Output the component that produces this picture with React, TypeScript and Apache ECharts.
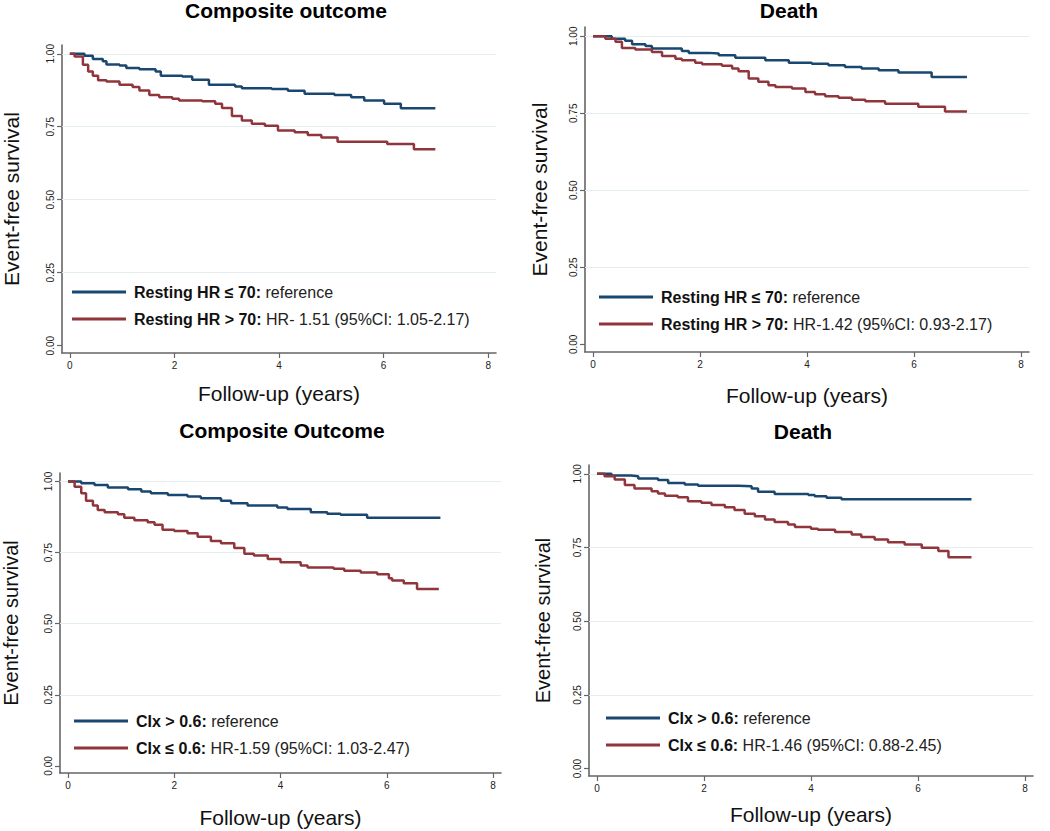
import React, { useEffect, useRef } from "react";
import * as echarts from "echarts";

// ---- Data ----
const xTicks = [0, 2, 4, 6, 8];
const yTicks = [0, 0.25, 0.5, 0.75, 1];
const yGridValues = [0.25, 0.5, 0.75, 1];

const panelTitles = ["Composite outcome", "Death", "Composite Outcome", "Death"];
const xAxisTitle = "Follow-up (years)";
const yAxisTitle = "Event-free survival";

const legendBold = [
  ["Resting HR ≤ 70:", "Resting HR > 70:"],
  ["Resting HR ≤ 70:", "Resting HR > 70:"],
  ["CIx > 0.6:", "CIx ≤ 0.6:"],
  ["CIx > 0.6:", "CIx ≤ 0.6:"],
];
const legendRest = [
  ["reference", "HR- 1.51 (95%CI: 1.05-2.17)"],
  ["reference", "HR-1.42 (95%CI: 0.93-2.17)"],
  ["reference", "HR-1.59 (95%CI: 1.03-2.47)"],
  ["reference", "HR-1.46 (95%CI: 0.88-2.45)"],
];

// Panel 1: Composite outcome, resting HR
const p1BlueT = [0, 0.28, 0.44, 0.63, 0.7, 0.95, 1.08, 1.33, 1.64, 1.74, 2.15, 2.34, 2.66, 3.16, 3.29, 3.86, 4.17, 4.49, 5.06, 5.38, 5.63, 6.01, 6.33, 6.99];
const p1BlueS = [1, 0.993, 0.982, 0.974, 0.963, 0.96, 0.951, 0.947, 0.939, 0.925, 0.922, 0.911, 0.894, 0.888, 0.882, 0.879, 0.873, 0.863, 0.859, 0.851, 0.84, 0.829, 0.813, 0.813];
const p1RedT = [0, 0.09, 0.25, 0.35, 0.44, 0.54, 0.7, 0.95, 1.2, 1.33, 1.52, 1.71, 1.96, 2.09, 2.53, 2.78, 2.91, 3.1, 3.29, 3.48, 3.73, 3.98, 4.3, 4.55, 4.81, 5.12, 6.07, 6.58, 6.99];
const p1RedS = [1, 0.991, 0.962, 0.939, 0.925, 0.909, 0.905, 0.894, 0.886, 0.874, 0.859, 0.851, 0.846, 0.84, 0.837, 0.829, 0.814, 0.787, 0.771, 0.76, 0.753, 0.737, 0.731, 0.722, 0.713, 0.699, 0.691, 0.673, 0.673];

// Panel 2: Death, resting HR
const p2BlueT = [0, 0.35, 0.6, 0.73, 0.98, 1.1, 1.66, 1.79, 2.16, 2.35, 2.66, 3.22, 3.66, 4.09, 4.4, 4.71, 5.02, 5.34, 5.71, 6.33, 6.99];
const p2BlueS = [1, 0.992, 0.985, 0.974, 0.968, 0.96, 0.952, 0.946, 0.944, 0.938, 0.93, 0.922, 0.914, 0.911, 0.906, 0.9, 0.895, 0.89, 0.882, 0.868, 0.868];
const p2RedT = [0, 0.23, 0.42, 0.54, 0.79, 1.1, 1.29, 1.54, 1.66, 1.91, 2.04, 2.41, 2.6, 2.72, 2.91, 3.09, 3.28, 3.41, 3.72, 3.97, 4.15, 4.34, 4.59, 4.84, 5.09, 5.46, 6.08, 6.58, 6.99];
const p2RedS = [1, 0.992, 0.982, 0.962, 0.957, 0.949, 0.936, 0.927, 0.922, 0.914, 0.909, 0.904, 0.895, 0.886, 0.863, 0.852, 0.841, 0.835, 0.83, 0.819, 0.812, 0.805, 0.8, 0.794, 0.789, 0.781, 0.771, 0.756, 0.756];

// Panel 3: Composite outcome, CIx
const p3BlueT = [0, 0.25, 0.5, 0.75, 1.13, 1.38, 1.56, 1.88, 2.25, 2.5, 2.88, 3.07, 3.38, 3.94, 4.13, 4.57, 4.88, 5.13, 5.63, 7.01];
const p3BlueS = [1, 0.994, 0.988, 0.979, 0.973, 0.965, 0.959, 0.953, 0.947, 0.941, 0.932, 0.924, 0.916, 0.909, 0.903, 0.892, 0.887, 0.883, 0.873, 0.873];
const p3RedT = [0, 0.125, 0.25, 0.34, 0.47, 0.56, 0.69, 0.94, 1.06, 1.25, 1.5, 1.63, 1.78, 2.0, 2.25, 2.44, 2.69, 2.88, 3.13, 3.32, 3.5, 3.76, 4.0, 4.38, 4.51, 5.0, 5.2, 5.51, 5.82, 6.04, 6.1, 6.32, 6.57, 6.98];
const p3RedS = [1, 0.982, 0.959, 0.932, 0.916, 0.9, 0.892, 0.885, 0.873, 0.864, 0.857, 0.848, 0.83, 0.826, 0.818, 0.806, 0.791, 0.783, 0.766, 0.746, 0.74, 0.728, 0.716, 0.705, 0.698, 0.693, 0.686, 0.68, 0.674, 0.66, 0.652, 0.642, 0.622, 0.622];

// Panel 4: Death, CIx
const p4BlueT = [0, 0.27, 0.64, 0.77, 1.14, 1.33, 1.64, 1.89, 2.64, 2.89, 3.01, 3.32, 3.95, 4.07, 4.29, 4.57, 7.0];
const p4BlueS = [1, 0.994, 0.992, 0.984, 0.979, 0.969, 0.964, 0.96, 0.958, 0.95, 0.939, 0.932, 0.928, 0.924, 0.919, 0.914, 0.914];
const p4RedT = [0, 0.14, 0.33, 0.52, 0.7, 1.02, 1.14, 1.27, 1.51, 1.7, 1.95, 2.14, 2.39, 2.57, 2.76, 2.95, 3.14, 3.32, 3.57, 3.7, 4.0, 4.13, 4.45, 4.76, 4.94, 5.19, 5.44, 5.75, 6.07, 6.38, 6.57, 7.0];
const p4RedS = [1, 0.992, 0.981, 0.962, 0.95, 0.941, 0.933, 0.926, 0.921, 0.907, 0.902, 0.894, 0.887, 0.877, 0.865, 0.856, 0.845, 0.837, 0.828, 0.82, 0.814, 0.81, 0.803, 0.794, 0.786, 0.777, 0.768, 0.76, 0.749, 0.738, 0.717, 0.717];

const curves = [
  [[p1BlueT, p1BlueS], [p1RedT, p1RedS]],
  [[p2BlueT, p2BlueS], [p2RedT, p2RedS]],
  [[p3BlueT, p3BlueS], [p3RedT, p3RedS]],
  [[p4BlueT, p4BlueS], [p4RedT, p4RedS]],
];

// ---- Layout / style ----
const FONT = "'Liberation Sans', Arial, Helvetica, sans-serif";
const BLUE = "#1a476f";
const RED = "#90353b";
const AXIS = "#666666";

const grids = [
  { left: 59, top: 45, width: 437, height: 308 },
  { left: 585, top: 27, width: 444, height: 325 },
  { left: 59, top: 473, width: 442, height: 300 },
  { left: 589, top: 465, width: 444, height: 311 },
];
const titlePos = [
  { x: 286, y: 0 },
  { x: 789, y: 0 },
  { x: 282, y: 420 },
  { x: 803, y: 421 },
];
const legendPos = [
  { left: 72, top: 283 },
  { left: 599, top: 288 },
  { left: 74, top: 712 },
  { left: 606, top: 709 },
];
const xNameGap = [30, 33, 34, 28];
const yNameGap = [40, 35, 39, 36];

function buildOption() {
  const series: any[] = [];
  const legends: any[] = [];
  const xAxes: any[] = [];
  const yAxes: any[] = [];
  const titles: any[] = [];

  grids.forEach((g, i) => {
    titles.push({
      text: panelTitles[i],
      left: titlePos[i].x,
      top: titlePos[i].y,
      textAlign: "center",
      padding: 0,
      textStyle: { fontFamily: FONT, fontSize: 21, fontWeight: "bold", color: "#000" },
    });
    xAxes.push({
      type: "value",
      gridIndex: i,
      min: -0.15,
      max: 8.15,
      axisLine: { show: true, onZero: false, lineStyle: { color: AXIS, width: 1.6 } },
      axisTick: { show: true, customValues: xTicks, length: 5, lineStyle: { color: AXIS, width: 1.2 } },
      axisLabel: { customValues: xTicks, color: "#222", fontSize: 10, fontFamily: FONT, margin: 7 },
      splitLine: { show: false },
      name: xAxisTitle,
      nameLocation: "middle",
      nameGap: xNameGap[i],
      nameTextStyle: { fontFamily: FONT, fontSize: 21, color: "#111" },
    });
    yAxes.push({
      type: "value",
      gridIndex: i,
      min: -0.025,
      max: 1.03,
      axisLine: { show: true, onZero: false, lineStyle: { color: AXIS, width: 1.6 } },
      axisTick: { show: true, customValues: yTicks, length: 5, lineStyle: { color: AXIS, width: 1.2 } },
      axisLabel: {
        customValues: yTicks,
        rotate: 90,
        color: "#222",
        fontSize: 10,
        fontFamily: FONT,
        margin: 7,
        formatter: (v: number) => Number(v).toFixed(2),
      },
      splitLine: { show: false },
      name: yAxisTitle,
      nameLocation: "middle",
      nameRotate: 90,
      nameGap: yNameGap[i],
      nameTextStyle: { fontFamily: FONT, fontSize: i < 2 ? 21 : 20, color: "#111" },
    });
    // gridlines
    series.push({
      type: "line",
      name: "grid" + i,
      xAxisIndex: i,
      yAxisIndex: i,
      data: [],
      z: 1,
      silent: true,
      markLine: {
        silent: true,
        z: 1,
        symbol: ["none", "none"],
        label: { show: false },
        lineStyle: { color: "#e4eef0", width: 1, type: "solid" },
        emphasis: { disabled: true },
        data: yGridValues.map((v) => ({ yAxis: v })),
      },
    });
    const names = ["p" + i + "a", "p" + i + "b"];
    curves[i].forEach(([ts, ss], k) => {
      series.push({
        type: "line",
        name: names[k],
        xAxisIndex: i,
        yAxisIndex: i,
        step: "end",
        symbol: "none",
        color: k === 0 ? BLUE : RED,
        lineStyle: { width: 2.5, color: k === 0 ? BLUE : RED },
        z: 3,
        data: ts.map((t, j) => [t, ss[j]]),
      });
    });
    legends.push({
      data: names,
      left: legendPos[i].left,
      top: legendPos[i].top,
      orient: "vertical",
      icon: "rect",
      itemWidth: 54,
      itemHeight: 3,
      itemGap: 9,
      padding: 0,
      selectedMode: false,
      formatter: (name: string) => {
        const k = name.endsWith("a") ? 0 : 1;
        return "{b|" + legendBold[i][k] + "} {r|" + legendRest[i][k] + "}";
      },
      textStyle: {
        fontFamily: FONT,
        fontSize: 16,
        lineHeight: 18,
        rich: {
          b: { fontFamily: FONT, fontSize: 16, fontWeight: "bold", color: "#111", lineHeight: 18, padding: [0, 0, 0, 3] },
          r: { fontFamily: FONT, fontSize: 16, color: "#222", lineHeight: 18 },
        },
      },
    });
  });

  return {
    animation: false,
    backgroundColor: "#ffffff",
    title: titles,
    grid: grids.map((g) => ({ ...g, containLabel: false })),
    xAxis: xAxes,
    yAxis: yAxes,
    legend: legends,
    series,
  };
}

export default function App() {
  const ref = useRef<HTMLDivElement>(null);
  useEffect(() => {
    if (!ref.current) return;
    const chart = echarts.init(ref.current, undefined, { renderer: "svg" });
    chart.setOption(buildOption() as any);
    return () => chart.dispose();
  }, []);
  return (
    <div
      ref={ref}
      style={{ position: "fixed", left: 0, top: 0, width: 1050, height: 831, background: "#fff" }}
    />
  );
}
